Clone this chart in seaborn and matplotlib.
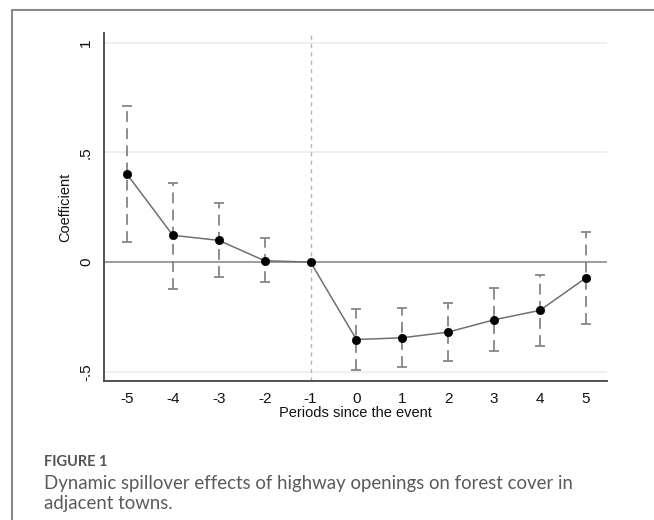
import numpy as np
import pandas as pd
import matplotlib
matplotlib.use("Agg")
import matplotlib.pyplot as plt
from matplotlib.lines import Line2D
import seaborn as sns

# Event-study estimates: coefficient and 95% CI per period relative to the opening
periods = [-5, -4, -3, -2, -1, 0, 1, 2, 3, 4, 5]
coef = [0.401, 0.122, 0.099, 0.006, 0.0, -0.353, -0.345, -0.319, -0.263, -0.220, -0.072]
ci_low = [0.093, -0.122, -0.068, -0.093, np.nan, -0.494, -0.479, -0.451, -0.404, -0.382, -0.281]
ci_high = [0.712, 0.361, 0.268, 0.109, np.nan, -0.213, -0.211, -0.187, -0.120, -0.058, 0.135]
ytick_vals = [-0.5, 0, 0.5, 1]
ytick_labels = ["-.5", "0", ".5", "1"]

df = pd.DataFrame({"period": periods, "coef": coef, "lo": ci_low, "hi": ci_high})

sns.set_style("white")
plt.rcParams["font.family"] = ["Liberation Sans", "DejaVu Sans"]

fig = plt.figure(figsize=(6.54, 5.2), dpi=100)
W, H = 654, 520
ax = fig.add_axes([104 / W, 1 - 381 / H, (607 - 104) / W, (381 - 33) / H])
ax.set_xlim(-5.5, 5.46)
ax.set_ylim(-0.542, 1.044)

# light grid lines and reference lines
for g in [1, 0.5, -0.5]:
    ax.axhline(g, color="#e8efef", lw=1.2, zorder=0)
ax.axhline(0, color="#8c8c8c", lw=1.2, zorder=1)
ax.axvline(-1, color="#b5b5b5", lw=1.0, ls=(0, (3, 3)), zorder=1)

# confidence intervals as dashed capped spikes
ci = df.dropna()
eb = ax.errorbar(ci["period"], ci["coef"],
                 yerr=[ci["coef"] - ci["lo"], ci["hi"] - ci["coef"]],
                 fmt="none", ecolor="#858585", elinewidth=1.3,
                 capsize=3.5, capthick=1.3, zorder=2)
for lc in eb.lines[2]:
    lc.set_linestyle((0, (6, 3.5)))

sns.lineplot(data=df, x="period", y="coef", color="#707070", lw=1.1, ax=ax, zorder=3)
sns.scatterplot(data=df, x="period", y="coef", color="black", edgecolor="black",
                s=36, ax=ax, zorder=4)

for side in ["top", "right"]:
    ax.spines[side].set_visible(False)
for side in ["left", "bottom"]:
    ax.spines[side].set_color("#444444")
    ax.spines[side].set_linewidth(1.3)

ax.set_xticks(periods)
ax.set_xticklabels([str(p) for p in periods])
ax.set_yticks(ytick_vals)
ax.set_yticklabels(ytick_labels, rotation=90, va="center")
ax.tick_params(axis="both", direction="out", length=5, width=1, color="#444444",
               labelsize=11, labelcolor="#111111", pad=3)
ax.set_xlabel("Periods since the event", fontsize=10.5, color="#111111", labelpad=0)
ax.set_ylabel("Coefficient", fontsize=10.5, color="#111111", labelpad=5)

# frame around the figure panel (top and left edges)
fig.add_artist(Line2D([12 / W, 1], [1 - 10 / H, 1 - 10 / H], color="#8a8a8a", lw=1.5))
fig.add_artist(Line2D([12 / W, 12 / W], [0, 1 - 10 / H], color="#8a8a8a", lw=1.5))

# caption
fig.text(44 / W, 1 - 462 / H, "FIGURE 1", fontsize=10.5, fontweight="bold",
         color="#555555", family=["Lato", "DejaVu Sans"], va="center")
fig.text(44 / W, 1 - 483 / H, "Dynamic spillover effects of highway openings on forest cover in",
         fontsize=13.4, color="#5a5a5a", family=["Lato", "DejaVu Sans"], va="center")
fig.text(44 / W, 1 - 504 / H, "adjacent towns.",
         fontsize=13.4, color="#5a5a5a", family=["Lato", "DejaVu Sans"], va="center")

fig.savefig("out.png", dpi=100)
